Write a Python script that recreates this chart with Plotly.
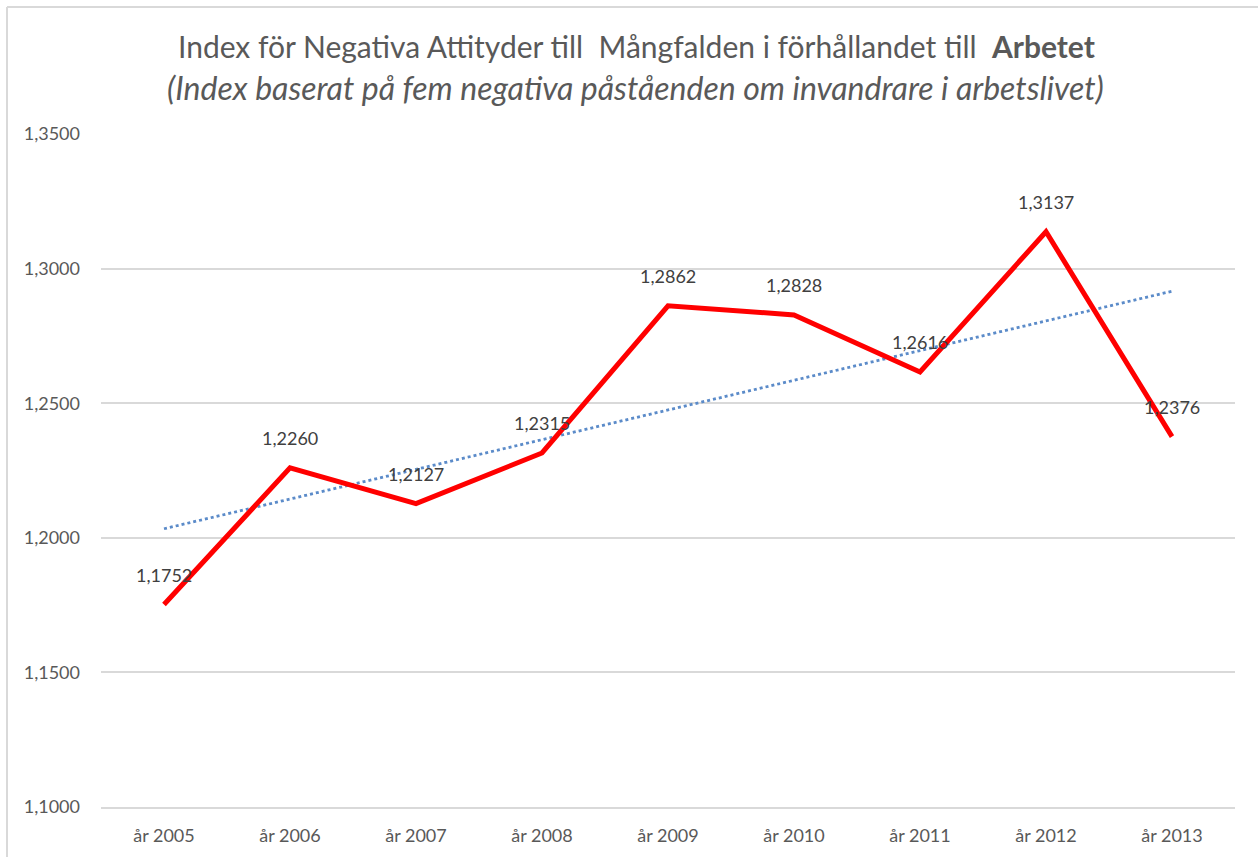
import numpy as np
import plotly.graph_objects as go

years = ["år 2005", "år 2006", "år 2007", "år 2008", "år 2009",
         "år 2010", "år 2011", "år 2012", "år 2013"]
index_values = [1.1752, 1.2260, 1.2127, 1.2315, 1.2862,
                1.2828, 1.2616, 1.3137, 1.2376]
y_ticks = [1.10, 1.15, 1.20, 1.25, 1.30, 1.35]
y_tick_labels = ["1,1000", "1,1500", "1,2000", "1,2500", "1,3000", "1,3500"]

title_line = ("Index för Negativa Attityder till\u00a0 Mångfalden i förhållandet till\u00a0 "
              "<b>Arbetet</b>")
subtitle_line = "<i>(Index baserat på fem negativa påståenden om invandrare i arbetslivet)</i>"

# linear trend over the year positions
pos = np.arange(len(years))
slope, intercept = np.polyfit(pos, index_values, 1)
trend = slope * pos + intercept

W, H = 1258, 857
L, R, T, B = 101, 23, 134, 50
plot_h = H - T - B
plot_w = W - L - R

FONT = "Lato"
GREY = "#595959"

fig = go.Figure()
fig.add_trace(go.Scatter(
    x=years, y=trend, mode="lines",
    line=dict(color="#5B8BC9", width=2.8, dash="dot"),
    hoverinfo="skip", showlegend=False,
))
fig.add_trace(go.Scatter(
    x=years, y=index_values, mode="lines",
    line=dict(color="#FF0000", width=5),
    showlegend=False,
))

for yr, v in zip(years, index_values):
    fig.add_annotation(
        x=yr, y=v, xref="x", yref="y",
        text=f"{v:.4f}".replace(".", ","),
        showarrow=False, yshift=30, yanchor="middle",
        font=dict(family=FONT, size=18, color="#404040"),
    )

def py(px):
    return 1 + (T - px) / plot_h

def pxx(px):
    return (px - L) / plot_w

fig.add_annotation(
    x=pxx(636), y=py(46), xref="paper", yref="paper",
    text=title_line, showarrow=False, xanchor="center", yanchor="middle",
    font=dict(family=FONT, size=30, color=GREY),
)
fig.add_annotation(
    x=pxx(635), y=py(87), xref="paper", yref="paper",
    text=subtitle_line, showarrow=False, xanchor="center", yanchor="middle",
    font=dict(family=FONT, size=32, color=GREY),
)

# chart frame (top and left edges)
fig.add_shape(type="line", xref="paper", yref="paper",
              x0=pxx(7), x1=pxx(1270), y0=py(7), y1=py(7),
              line=dict(color="#D9D9D9", width=2))
fig.add_shape(type="line", xref="paper", yref="paper",
              x0=pxx(7), x1=pxx(7), y0=py(7), y1=py(870),
              line=dict(color="#D9D9D9", width=2))

fig.update_layout(
    width=W, height=H,
    margin=dict(l=L, r=R, t=T, b=B),
    paper_bgcolor="white", plot_bgcolor="white",
    font=dict(family=FONT, color=GREY),
)
fig.update_xaxes(
    range=[-0.5, len(years) - 0.5],
    showgrid=False, showline=True, linecolor="#D9D9D9", linewidth=1.5,
    ticks="", ticklabelstandoff=12,
    tickfont=dict(family=FONT, size=18, color=GREY),
)
fig.update_yaxes(
    range=[1.10, 1.35], tickvals=y_ticks, ticktext=y_tick_labels,
    showgrid=True, gridcolor="#D9D9D9", gridwidth=1.5,
    zeroline=False, showline=False, ticks="", ticklabelstandoff=20,
    tickfont=dict(family=FONT, size=18, color=GREY),
)

fig.write_html("out.html")
